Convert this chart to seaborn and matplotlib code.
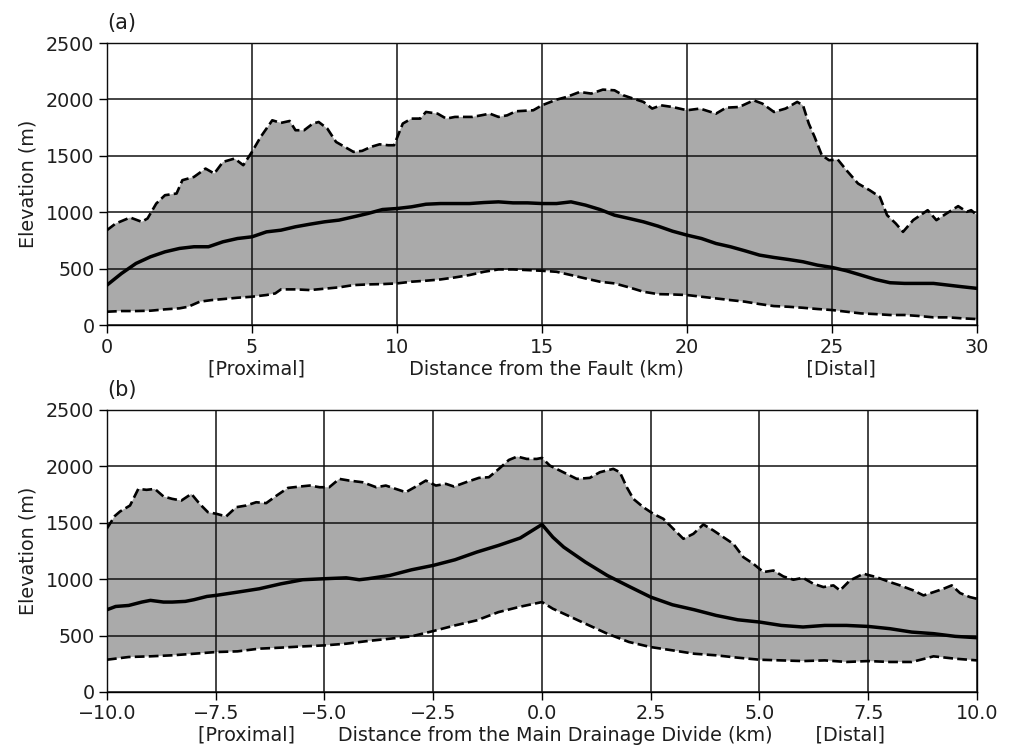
import numpy as np
import matplotlib
matplotlib.use("Agg")
import matplotlib.pyplot as plt
import seaborn as sns

# ---------------- Panel (a): swath profile along distance from the fault ----------------
a_max_x = [0, 0.3, 0.8, 1.2, 1.4, 1.7, 2.0, 2.4, 2.6, 3.0, 3.4, 3.7, 4.0, 4.4, 4.7, 5.0,
           5.3, 5.7, 6.0, 6.3, 6.5, 6.8, 7.1, 7.3, 7.6, 7.9, 8.2, 8.5, 8.8, 9.1, 9.4, 9.7,
           9.9, 10.2, 10.5, 10.8, 11.0, 11.4, 11.7, 12.0, 12.3, 12.6, 12.9, 13.2, 13.5,
           13.8, 14.1, 14.7, 15.0, 15.5, 15.85, 16.3, 16.7, 17.1, 17.5, 17.8, 18.15, 18.5,
           18.8, 19.1, 19.5, 20.0, 20.45, 21.0, 21.35, 21.8, 22.3, 22.6, 23.0, 23.4, 23.8,
           24.0, 24.2, 24.4, 24.65, 24.9, 25.2, 25.5, 25.9, 26.3, 26.65, 26.9, 27.2, 27.45,
           27.8, 28.3, 28.6, 28.95, 29.35, 29.65, 29.8, 30.0]
a_max_y = [841, 900, 953, 915, 945, 1077, 1151, 1166, 1284, 1313, 1387, 1343, 1446, 1476,
           1417, 1535, 1668, 1815, 1792, 1809, 1727, 1727, 1786, 1800, 1741, 1623, 1579,
           1535, 1544, 1579, 1602, 1594, 1594, 1786, 1830, 1830, 1889, 1874, 1830, 1845,
           1845, 1845, 1859, 1874, 1845, 1859, 1895, 1904, 1948, 1998, 2022, 2066, 2052,
           2087, 2081, 2037, 2007, 1978, 1919, 1948, 1933, 1904, 1919, 1874, 1927, 1933,
           1992, 1963, 1889, 1919, 1978, 1948, 1786, 1668, 1505, 1461, 1467, 1372, 1254,
           1195, 1136, 974, 900, 826, 930, 1018, 930, 989, 1054, 1004, 1018, 974]

a_mean_x = [0, 0.5, 1.0, 1.5, 2.0, 2.5, 3.0, 3.5, 4.0, 4.5, 5.0, 5.5, 6.0, 6.5, 7.0, 7.5,
            8.0, 8.5, 9.0, 9.5, 10.0, 10.5, 11.0, 11.5, 12.0, 12.5, 13.0, 13.5, 14.0, 14.5,
            15.0, 15.5, 16.0, 16.5, 17.0, 17.5, 18.0, 18.5, 19.0, 19.5, 20.0, 20.5, 21.0,
            21.5, 22.0, 22.5, 23.0, 23.5, 24.0, 24.5, 25.0, 25.5, 26.0, 26.5, 27.0, 27.5,
            28.0, 28.5, 29.0, 29.5, 30.0]
a_mean_y = [354, 457, 546, 605, 649, 679, 694, 694, 738, 767, 782, 826, 841, 871, 894, 915,
            930, 959, 989, 1024, 1033, 1048, 1071, 1077, 1077, 1077, 1086, 1092, 1083, 1083,
            1077, 1077, 1092, 1063, 1024, 974, 945, 915, 877, 832, 797, 767, 723, 694, 658,
            620, 599, 581, 561, 531, 511, 481, 443, 404, 375, 369, 369, 369, 354, 339, 325]

a_min_x = [0, 0.5, 1.0, 1.5, 2.0, 2.5, 2.8, 3.2, 3.6, 4.0, 4.5, 5.0, 5.5, 5.8, 6.0, 6.5,
           7.0, 7.5, 8.0, 8.5, 9.0, 9.5, 10.0, 10.5, 11.0, 11.5, 12.0, 12.5, 13.0, 13.5,
           14.0, 14.5, 15.0, 15.5, 16.0, 16.5, 17.0, 17.5, 18.0, 18.5, 19.0, 19.5, 20.0,
           20.5, 21.0, 21.5, 22.0, 22.5, 23.0, 23.5, 24.0, 24.5, 25.0, 25.5, 26.0, 26.5,
           27.0, 27.5, 28.0, 28.5, 29.0, 29.5, 30.0]
a_min_y = [118, 124, 124, 127, 139, 148, 162, 207, 221, 230, 242, 251, 266, 280, 316, 316,
           310, 322, 334, 354, 360, 363, 369, 384, 393, 404, 422, 443, 472, 493, 493, 487,
           481, 472, 443, 413, 384, 369, 334, 295, 274, 271, 266, 251, 236, 221, 207, 186,
           168, 162, 153, 142, 133, 118, 103, 97, 89, 89, 80, 68, 68, 59, 53]

# ---------------- Panel (b): swath profile across the main drainage divide ----------------
b_max_x = [-10, -9.82, -9.7, -9.47, -9.28, -9.09, -8.9, -8.7, -8.5, -8.29, -8.06, -7.87,
           -7.68, -7.48, -7.26, -7.03, -6.8, -6.57, -6.34, -6.1, -5.84, -5.57, -5.34, -5.11,
           -4.89, -4.66, -4.43, -4.12, -3.81, -3.59, -3.36, -3.13, -2.9, -2.67, -2.44, -2.21,
           -2.02, -1.75, -1.45, -1.22, -0.99, -0.76, -0.57, -0.35, -0.12, 0.0, 0.18, 0.49,
           0.8, 1.1, 1.33, 1.64, 1.79, 1.95, 2.1, 2.33, 2.56, 2.79, 3.02, 3.25, 3.48, 3.71,
           3.94, 4.17, 4.4, 4.63, 4.86, 5.09, 5.32, 5.55, 5.78, 6.0, 6.24, 6.47, 6.7, 6.85,
           7.08, 7.39, 7.69, 8.0, 8.23, 8.54, 8.77, 9.0, 9.23, 9.42, 9.61, 9.84, 10.0]
b_max_y = [1450, 1560, 1600, 1653, 1800, 1792, 1800, 1733, 1712, 1697, 1756, 1668, 1594,
           1579, 1556, 1638, 1653, 1682, 1674, 1741, 1809, 1821, 1830, 1815, 1815, 1889,
           1874, 1859, 1815, 1830, 1800, 1771, 1821, 1874, 1830, 1845, 1821, 1859, 1898,
           1904, 1978, 2057, 2087, 2066, 2066, 2075, 2007, 1948, 1889, 1898, 1948, 1978,
           1948, 1815, 1712, 1638, 1579, 1535, 1446, 1358, 1402, 1485, 1432, 1372, 1313,
           1195, 1136, 1063, 1077, 1024, 995, 1012, 959, 930, 945, 900, 989, 1048, 1018,
           974, 945, 900, 856, 885, 915, 945, 877, 841, 826]

b_mean_x = [-10, -9.8, -9.5, -9.2, -9.0, -8.7, -8.5, -8.2, -8.0, -7.7, -7.5, -7.0, -6.5,
            -6.0, -5.5, -5.0, -4.5, -4.2, -4.0, -3.5, -3.0, -2.5, -2.0, -1.5, -1.0, -0.5,
            0.0, 0.25, 0.5, 1.0, 1.5, 2.0, 2.5, 3.0, 3.5, 4.0, 4.5, 5.0, 5.5, 6.0, 6.5, 7.0,
            7.5, 8.0, 8.5, 9.0, 9.5, 10.0]
b_mean_y = [729, 758, 767, 797, 812, 797, 797, 803, 818, 847, 856, 885, 915, 959, 995,
            1004, 1012, 995, 1004, 1033, 1083, 1122, 1172, 1240, 1299, 1365, 1485, 1372,
            1284, 1151, 1033, 936, 841, 773, 729, 679, 640, 620, 590, 576, 590, 590, 581,
            561, 531, 517, 493, 481]

b_min_x = [-10, -9.5, -9.0, -8.5, -8.0, -7.5, -7.0, -6.5, -6.0, -5.5, -5.0, -4.5, -4.0,
           -3.5, -3.0, -2.5, -2.0, -1.5, -1.0, -0.5, 0.0, 0.25, 0.5, 1.0, 1.5, 2.0, 2.5,
           3.0, 3.5, 4.0, 4.5, 5.0, 5.5, 6.0, 6.5, 7.0, 7.5, 8.0, 8.5, 8.8, 9.0, 9.5, 10.0]
b_min_y = [286, 310, 316, 325, 339, 354, 360, 384, 393, 404, 413, 428, 452, 472, 493, 540,
           590, 635, 708, 756, 797, 738, 694, 605, 517, 443, 398, 369, 339, 325, 304, 286,
           280, 274, 280, 266, 274, 266, 266, 295, 316, 295, 280]

a_xticks = [0, 5, 10, 15, 20, 25, 30]
b_xticks = [-10.0, -7.5, -5.0, -2.5, 0.0, 2.5, 5.0, 7.5, 10.0]
y_ticks = [0, 500, 1000, 1500, 2000, 2500]

a_xlabel = "[Proximal]" + " " * 17 + "Distance from the Fault (km)" + " " * 20 + "[Distal]"
b_xlabel = "[Proximal]" + " " * 7 + "Distance from the Main Drainage Divide (km)" + " " * 7 + "[Distal]"

sns.set_theme(style="ticks")
plt.rcParams["font.family"] = ["DejaVu Sans"]

FS = 13.8
FILL = "#aaaaaa"
TXT = "#1e1e1e"

fig = plt.figure(figsize=(10.12, 7.51), dpi=100)
ax_a = fig.add_axes([0.1057, 0.5672, 0.8597, 0.3755])
ax_b = fig.add_axes([0.1057, 0.0786, 0.8597, 0.3755])

panels = [
    (ax_a, "(a)", a_max_x, a_max_y, a_mean_x, a_mean_y, a_min_x, a_min_y,
     (0, 30), a_xticks, a_xlabel),
    (ax_b, "(b)", b_max_x, b_max_y, b_mean_x, b_mean_y, b_min_x, b_min_y,
     (-10, 10), b_xticks, b_xlabel),
]

for ax, tag, mx, my, ex, ey, nx, ny, xlim, xticks, xlabel in panels:
    # shaded envelope between maximum and minimum elevation
    ax.fill(np.r_[mx, nx[::-1]], np.r_[my, ny[::-1]], color=FILL, lw=0, zorder=1)
    ax.grid(True, color="#111111", lw=1.1, zorder=2)
    ax.set_axisbelow(False)
    sns.lineplot(x=mx, y=my, ax=ax, color="black", lw=1.9, linestyle="--", zorder=3)
    sns.lineplot(x=nx, y=ny, ax=ax, color="black", lw=1.9, linestyle="--", zorder=3)
    sns.lineplot(x=ex, y=ey, ax=ax, color="black", lw=2.5, zorder=4)
    ax.set_xlim(*xlim)
    ax.set_ylim(0, 2500)
    ax.set_xticks(xticks)
    ax.set_yticks(y_ticks)
    ax.tick_params(axis="both", labelsize=FS, length=6, width=1, color="black",
                   labelcolor=TXT, pad=3)
    for sp in ax.spines.values():
        sp.set_color("black")
        sp.set_linewidth(1)
    ax.set_xlabel(xlabel, fontsize=FS, color=TXT, labelpad=2)
    ax.set_ylabel("Elevation (m)", fontsize=FS, color=TXT, labelpad=6)
    ax.set_title(tag, loc="left", fontsize=15, color=TXT, pad=10)

fig.savefig("out.png", dpi=100)
